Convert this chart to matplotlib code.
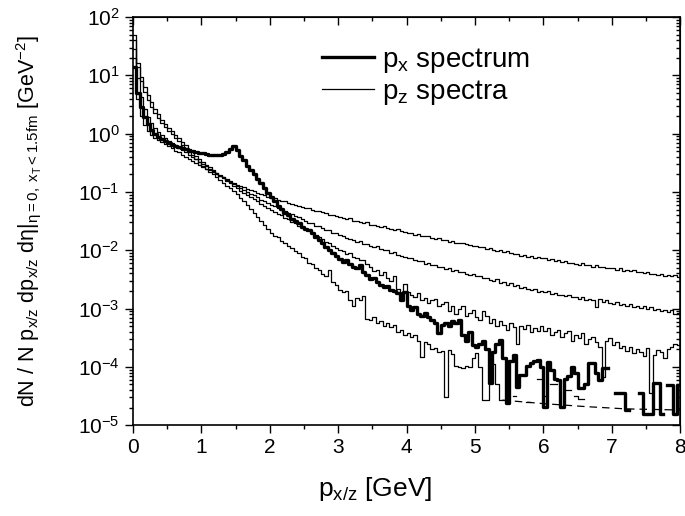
import numpy as np
import matplotlib
matplotlib.use('Agg')
import matplotlib.pyplot as plt
from matplotlib.ticker import LogLocator, MultipleLocator, NullFormatter

plt.rcParams['font.family'] = ['Liberation Sans', 'DejaVu Sans']
plt.rcParams['mathtext.fontset'] = 'custom'
plt.rcParams['mathtext.rm'] = 'Liberation Sans'
plt.rcParams['mathtext.it'] = 'Liberation Sans:italic'
plt.rcParams['mathtext.default'] = 'regular'

#---------------- data: log10 of dN/..., bins of 0.05 GeV from 0 to 8 ----------------
bin_width = 0.05
nan = np.nan

# p_x spectrum (thick)
px_log = [
  1.15, 0.70, 0.45, 0.28, 0.16, 0.07, 0.00,-0.05,-0.09,-0.13,-0.16,-0.19,-0.21,-0.23,-0.25,-0.27,-0.29,-0.30,-0.32,-0.33,
 -0.34,-0.35,-0.36,-0.37,-0.37,-0.37,-0.35,-0.32,-0.26,-0.21,-0.28,-0.38,-0.45,-0.55,-0.62,-0.70,-0.78,-0.85,-0.93,-1.01,
 -1.09,-1.16,-1.24,-1.30,-1.36,-1.40,-1.46,-1.50,-1.54,-1.60,-1.63,-1.66,-1.71,-1.77,-1.83,-1.88,-1.94,-2.00,-2.05,-2.10,
 -2.15,-2.20,-2.17,-2.24,-2.28,-2.30,-2.25,-2.38,-2.42,-2.50,-2.48,-2.55,-2.60,-2.63,-2.62,-2.68,-2.70,-2.73,-2.85,-2.72,
 -2.95,-3.03,-2.98,-3.10,-3.12,-3.08,-3.15,-3.20,-3.25,-3.42,-3.28,-3.25,-3.30,-3.22,-3.24,-3.20,-3.45,-3.55,-3.40,-3.62,
 -3.66,-3.60,-3.55,-3.70,-4.28,-3.75,-3.60,-3.54,-3.85,-4.62,-3.90,-3.80,-4.35,-4.14,-4.14,-3.98,-3.93,-3.90,-3.88,-4.00,
 -4.69,-3.91,-4.05,-4.20,-4.23,-4.69,-4.20,-4.15,-4.00,-4.10,-4.36,-4.36,-4.30,-3.93,-3.93,-4.10,-4.23,-4.02,-4.02,  nan,
   nan,-4.45,  nan,-4.45,-4.74,  nan,  nan,  nan,-4.45,-4.80,  nan,-4.80,-4.28,-4.28,-4.80,  nan,-4.31,-4.31,-4.80,-4.31]

# p_z spectra (thin), flattest to steepest
pzA_log = [
  1.30, 0.60, 0.30, 0.15, 0.05,-0.02,-0.07,-0.11,-0.15,-0.18,-0.21,-0.25,-0.29,-0.32,-0.36,-0.40,-0.43,-0.47,-0.50,-0.54,
 -0.57,-0.60,-0.63,-0.66,-0.69,-0.72,-0.75,-0.78,-0.81,-0.85,-0.88,-0.90,-0.92,-0.95,-0.97,-0.99,-1.01,-1.04,-1.06,-1.08,
 -1.10,-1.11,-1.14,-1.15,-1.16,-1.19,-1.20,-1.23,-1.24,-1.25,-1.28,-1.28,-1.31,-1.33,-1.33,-1.35,-1.36,-1.39,-1.39,-1.41,
 -1.43,-1.44,-1.46,-1.45,-1.49,-1.50,-1.51,-1.53,-1.52,-1.56,-1.57,-1.58,-1.60,-1.59,-1.62,-1.63,-1.65,-1.64,-1.67,-1.68,
 -1.70,-1.71,-1.73,-1.72,-1.75,-1.76,-1.75,-1.79,-1.80,-1.79,-1.82,-1.83,-1.85,-1.84,-1.87,-1.88,-1.87,-1.90,-1.91,-1.92,
 -1.93,-1.95,-1.94,-1.97,-1.96,-1.99,-2.01,-2.00,-2.03,-2.02,-2.05,-2.07,-2.06,-2.09,-2.08,-2.11,-2.10,-2.13,-2.12,-2.14,
 -2.13,-2.16,-2.15,-2.18,-2.17,-2.20,-2.19,-2.22,-2.21,-2.23,-2.25,-2.22,-2.26,-2.25,-2.28,-2.26,-2.29,-2.28,-2.31,-2.30,
 -2.30,-2.33,-2.31,-2.35,-2.33,-2.36,-2.34,-2.38,-2.37,-2.39,-2.37,-2.41,-2.40,-2.42,-2.40,-2.44,-2.42,-2.45,-2.43,-2.46]

pzB_log = [
  1.45, 0.95, 0.62, 0.42, 0.28, 0.18, 0.10, 0.03,-0.03,-0.08,-0.12,-0.16,-0.20,-0.24,-0.28,-0.32,-0.36,-0.40,-0.44,-0.48,
 -0.52,-0.56,-0.60,-0.64,-0.67,-0.71,-0.75,-0.79,-0.83,-0.86,-0.90,-0.93,-0.96,-1.00,-1.03,-1.06,-1.09,-1.13,-1.16,-1.19,
 -1.22,-1.24,-1.28,-1.31,-1.32,-1.36,-1.38,-1.42,-1.43,-1.47,-1.49,-1.53,-1.54,-1.58,-1.59,-1.62,-1.65,-1.66,-1.70,-1.71,
 -1.74,-1.75,-1.79,-1.80,-1.82,-1.85,-1.84,-1.89,-1.90,-1.92,-1.94,-1.93,-1.98,-1.99,-2.00,-2.04,-2.03,-2.08,-2.09,-2.11,
 -2.14,-2.13,-2.17,-2.19,-2.18,-2.23,-2.21,-2.26,-2.25,-2.29,-2.28,-2.32,-2.30,-2.35,-2.34,-2.38,-2.37,-2.40,-2.42,-2.41,
 -2.45,-2.44,-2.48,-2.47,-2.51,-2.53,-2.50,-2.56,-2.55,-2.59,-2.57,-2.62,-2.60,-2.64,-2.63,-2.67,-2.69,-2.66,-2.71,-2.70,
 -2.72,-2.70,-2.75,-2.73,-2.77,-2.76,-2.79,-2.77,-2.81,-2.80,-2.83,-2.81,-2.85,-2.83,-2.86,-2.97,-2.84,-2.88,-2.86,-2.90,
 -2.92,-2.89,-2.94,-2.92,-2.96,-2.93,-2.97,-2.95,-2.99,-2.96,-3.00,-2.98,-3.03,-3.00,-3.04,-3.02,-3.06,-3.03,-3.10,-3.08]

pzC_log = [
  1.60, 1.21, 0.97, 0.80, 0.66, 0.54, 0.43, 0.33, 0.24, 0.16, 0.10, 0.04,-0.02,-0.08,-0.14,-0.20,-0.26,-0.32,-0.38,-0.44,
 -0.49,-0.54,-0.58,-0.63,-0.67,-0.72,-0.76,-0.81,-0.85,-0.90,-0.94,-0.98,-1.01,-1.05,-1.09,-1.12,-1.16,-1.20,-1.24,-1.27,
 -1.31,-1.34,-1.38,-1.40,-1.45,-1.47,-1.52,-1.54,-1.58,-1.60,-1.64,-1.66,-1.71,-1.73,-1.78,-1.80,-1.85,-1.88,-1.93,-1.96,
 -2.00,-2.02,-2.06,-2.05,-2.12,-2.14,-2.17,-2.16,-2.24,-2.28,-2.35,-2.33,-2.42,-2.38,-2.47,-2.52,-2.45,-2.66,-2.73,-2.58,
 -2.72,-2.76,-2.80,-2.74,-2.85,-2.82,-2.90,-2.86,-2.83,-2.95,-2.92,-2.88,-3.05,-2.95,-3.10,-3.00,-2.96,-3.12,-3.08,-3.02,
 -3.15,-3.20,-3.05,-3.12,-3.25,-3.18,-3.30,-3.22,-3.28,-3.36,-3.25,-3.32,-3.60,-3.30,-3.35,-3.28,-3.40,-3.33,-3.38,-3.30,
 -3.38,-3.34,-3.45,-3.40,-3.36,-3.48,-3.42,-3.38,-3.55,-3.45,-3.50,-3.42,-3.60,-3.52,-3.48,-3.58,-3.66,-4.17,-3.55,-3.50,
 -3.62,-3.58,-3.68,-3.64,-3.72,-3.66,-3.76,-3.70,-3.74,-3.82,-3.68,-4.45,-3.80,-3.71,-3.75,-3.85,-3.70,-3.66,-3.60,-3.62]

pzD_log = [
  1.70, 1.15, 0.90, 0.72, 0.58, 0.46, 0.36, 0.27, 0.19, 0.11, 0.05,-0.01,-0.07,-0.13,-0.19,-0.25,-0.31,-0.37,-0.43,-0.49,
 -0.55,-0.60,-0.65,-0.69,-0.74,-0.79,-0.84,-0.89,-0.93,-0.98,-1.03,-1.10,-1.16,-1.23,-1.30,-1.36,-1.43,-1.50,-1.57,-1.63,
 -1.70,-1.75,-1.78,-1.84,-1.87,-1.93,-1.96,-2.02,-2.05,-2.11,-2.14,-2.21,-2.24,-2.31,-2.34,-2.41,-2.45,-2.34,-2.55,-2.60,
 -2.68,-2.72,-2.70,-2.85,-2.95,-2.82,-2.86,-2.78,-3.18,-3.20,-3.15,-3.25,-3.22,-3.30,-3.24,-3.32,-3.28,-3.40,-3.36,-3.45,
 -3.42,-3.48,-3.45,-3.55,-3.83,-3.58,-3.60,-3.70,-3.68,-3.75,-3.72,-4.52,-3.71,-3.78,-3.98,-4.00,-4.02,-3.98,-4.00,-3.85,
 -3.76,-4.00,-4.57,-4.57,-4.05,-3.95,-4.30,-4.57,-4.57,  nan,  nan,-4.50,  nan,  nan,  nan,-4.60,  nan,  nan,-4.20,-4.20,
 -4.50,  nan,-4.30,-4.30,  nan,  nan,-4.40,-4.40,  nan,-4.50,-4.55,-4.55,  nan,  nan,  nan,  nan,  nan,  nan,  nan,  nan,
   nan,  nan,  nan,  nan,  nan,  nan,  nan,  nan,  nan,  nan,  nan,  nan,  nan,  nan,  nan,  nan,  nan,  nan,  nan,  nan]

# dashed floor under the noisy tails
floor_x = [5.40, 6.00, 6.60, 7.20, 8.00]
floor_log = [-4.57, -4.63, -4.68, -4.72, -4.74]

#---------------- plot ----------------
edges = np.arange(len(px_log) + 1) * bin_width

def steps(ax, logvals, **kw):
    y = 10.0 ** np.asarray(logvals, dtype=float)
    y = np.append(y, y[-1])
    return ax.step(edges, y, where='post', color='black', **kw)

fig = plt.figure(figsize=(6.85, 5.16), dpi=100)
ax = fig.add_axes([0.194, 0.176, 0.799, 0.791])

for s in (pzA_log, pzB_log, pzC_log, pzD_log):
    steps(ax, s, lw=0.9)
steps(ax, px_log, lw=2.4)
ax.plot(floor_x, 10.0 ** np.asarray(floor_log), color='black', lw=0.9,
        dashes=(6, 4))

# legend entries
lx, = ax.plot([], [], color='black', lw=2.4)
lz, = ax.plot([], [], color='black', lw=0.9)
ax.legend([lx, lz], ['p$_x$ spectrum', 'p$_z$ spectra'], loc='upper left',
          bbox_to_anchor=(0.345, 0.93), frameon=False, fontsize=20,
          handlelength=1.9, handletextpad=0.27, labelspacing=0.12,
          borderpad=0, borderaxespad=0)

ax.set_yscale('log')
ax.set_xlim(0, 8)
ax.set_ylim(1e-5, 1e2)
ax.xaxis.set_major_locator(MultipleLocator(1))
ax.xaxis.set_minor_locator(MultipleLocator(0.5))
ax.yaxis.set_major_locator(LogLocator(base=10, numticks=10))
ax.yaxis.set_minor_locator(LogLocator(base=10, subs=np.arange(2, 10), numticks=10))

ax.tick_params(axis='both', which='both', labelsize=15, width=1, direction='out')
ax.tick_params(which='major', length=6)
ax.tick_params(which='minor', length=3)
for sp in ax.spines.values():
    sp.set_linewidth(1.2)

# mirrored axes, ticks pointing inward
top = ax.secondary_xaxis('top')
top.xaxis.set_major_locator(MultipleLocator(1))
top.xaxis.set_minor_locator(MultipleLocator(0.5))
top.xaxis.set_major_formatter(NullFormatter())
top.tick_params(which='both', direction='in', width=1)
top.tick_params(which='major', length=6)
top.tick_params(which='minor', length=3)
right = ax.secondary_yaxis('right')
right.yaxis.set_major_locator(LogLocator(base=10, numticks=10))
right.yaxis.set_minor_locator(LogLocator(base=10, subs=np.arange(2, 10), numticks=10))
right.yaxis.set_major_formatter(NullFormatter())
right.yaxis.set_minor_formatter(NullFormatter())
right.tick_params(which='both', direction='in', width=1)
right.tick_params(which='major', length=6)
right.tick_params(which='minor', length=3)

ax.set_xlabel('p$_{x/z}$ [GeV]', fontsize=19)
ax.xaxis.set_label_coords(0.442, -0.122)
ax.set_ylabel(r'dN / N p$_{x/z}$ dp$_{x/z}$ d$\eta$|$_{\eta=0,\ x_T<1.5fm}$ [GeV$^{-2}$]',
              fontsize=15.5)
ax.yaxis.set_label_coords(-0.165, 0.5)

fig.savefig('out.png', dpi=100)
